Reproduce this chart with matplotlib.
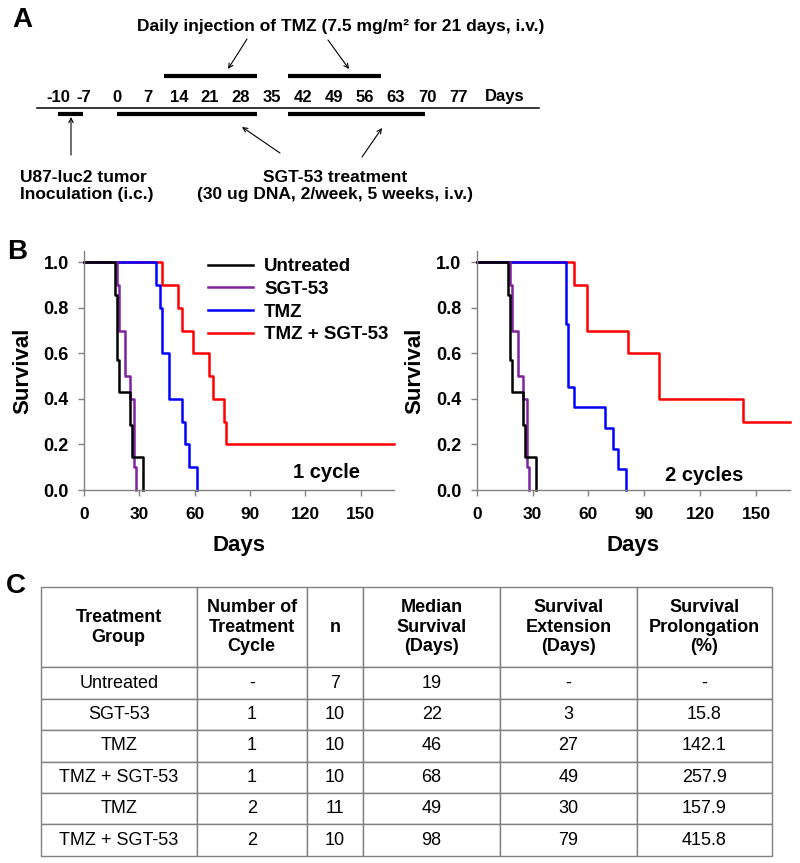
import numpy as np
import matplotlib
matplotlib.use('Agg')
import matplotlib.pyplot as plt

plt.rcParams['font.family'] = ['Liberation Sans', 'DejaVu Sans']

# ---- panel A: schedule ----
week_days = [-10, -7, 0, 7, 14, 21, 28, 35, 42, 49, 56, 63, 70, 77]
tmz_courses = [(10.5, 31.5), (38.5, 59.5)]
sgt_courses = [(0, 31.5), (38.5, 69.5)]
inoculation = (-10, -7)

# ---- panel B: survival (event days, deaths per day, group size) ----
untreated_t = [17, 18, 19, 25, 26, 32]
untreated_d = [1, 2, 1, 1, 1, 1]
sgt_t = [18, 19, 22, 25, 27, 28]
sgt_d = [1, 2, 2, 1, 3, 1]
tmz1_t = [39, 41, 42, 46, 53, 55, 57, 61]
tmz1_d = [1, 1, 2, 2, 1, 1, 1, 1]
combo1_t = [42, 51, 53, 59, 68, 70, 76, 77]
combo1_d = [1, 1, 1, 1, 1, 1, 1, 1]
tmz2_t = [48, 49, 52, 69, 73, 76, 80]
tmz2_d = [3, 3, 1, 1, 1, 1, 1]
combo2_t = [52, 59, 81, 98, 143]
combo2_d = [1, 2, 1, 2, 1]
followup = 168

# ---- panel C: table ----
col_labels = ['Treatment\nGroup', 'Number of\nTreatment\nCycle', 'n',
              'Median\nSurvival\n(Days)', 'Survival\nExtension\n(Days)',
              'Survival\nProlongation\n(%)']
groups = ['Untreated', 'SGT-53', 'TMZ', 'TMZ + SGT-53', 'TMZ', 'TMZ + SGT-53']
cycles = ['-', '1', '1', '1', '2', '2']
n_mice = [7, 10, 10, 10, 11, 10]
median_surv = [19, 22, 46, 68, 49, 98]
extension = ['-', '3', '27', '49', '30', '79']
prolong = ['-', '15.8', '142.1', '257.9', '157.9', '415.8']

W, H = 800, 863
fig = plt.figure(figsize=(W / 100, H / 100), dpi=100)


def km(times, deaths, n):
    xs, ys = [0], [1.0]
    s, risk = 1.0, n
    for t, d in zip(times, deaths):
        s *= 1 - d / risk
        risk -= d
        xs.append(t)
        ys.append(s)
    if risk > 0:
        xs.append(followup)
        ys.append(s)
    return xs, ys


# panel A ---------------------------------------------------------------
DAY0, PXW = 117, 31.0
slot = {-10: -13.3, -7: -7.6}


def pos(d):
    return slot.get(d, d)


def px(p):
    return (p - DAY0) * 7 / PXW


axA = fig.add_axes([0, 1 - 210 / H, 1, 210 / H])
axA.set_xlim(px(0), px(W))
axA.set_ylim(210, 0)
axA.axis('off')

axA.plot([px(37), px(539)], [108, 108], color='black', lw=1.1)
for d in week_days:
    axA.text(pos(d), 97, str(d), ha='center', va='center', fontsize=12, fontweight='bold')
axA.text(px(505), 97, 'Days', ha='center', va='center', fontsize=12, fontweight='bold')
for a, b in tmz_courses:
    axA.plot([a, b], [76, 76], color='black', lw=3, solid_capstyle='butt')
for a, b in sgt_courses:
    axA.plot([a, b], [114, 114], color='black', lw=3, solid_capstyle='butt')
axA.plot([pos(inoculation[0]), pos(inoculation[1])], [114, 114], color='black', lw=3,
         solid_capstyle='butt')

axA.text(px(341), 27, 'Daily injection of TMZ (7.5 mg/m² for 21 days, i.v.)',
         ha='center', va='center', fontsize=12.5, fontweight='bold')
axA.text(px(20), 186, 'U87-luc2 tumor\nInoculation (i.c.)', ha='left', va='center',
         fontsize=12.5, fontweight='bold', linespacing=1.25)
axA.text(px(335), 186, 'SGT-53 treatment\n(30 ug DNA, 2/week, 5 weeks, i.v.)',
         ha='center', va='center', fontsize=12.5, fontweight='bold', linespacing=1.25)

arrows = [((247, 39), (228, 69)), ((328, 40), (349, 69)), ((71, 155), (71, 117)),
          ((280, 153), (242, 127)), ((362, 157), (382, 128))]
for (x0, y0), (x1, y1) in arrows:
    axA.annotate('', xy=(px(x1), y1), xytext=(px(x0), y0),
                 arrowprops=dict(arrowstyle='->', lw=0.8, color='black',
                                 shrinkA=0, shrinkB=0, mutation_scale=8))

fig.text(22 / W, 1 - 20 / H, 'A', ha='center', va='center', fontsize=20, fontweight='bold')
fig.text(17 / W, 1 - 252 / H, 'B', ha='center', va='center', fontsize=20, fontweight='bold')
fig.text(16 / W, 1 - 586 / H, 'C', ha='center', va='center', fontsize=20, fontweight='bold')

# panel B ---------------------------------------------------------------
colors = {'Untreated': 'black', 'SGT-53': '#7f239f', 'TMZ': '#0000ff', 'TMZ + SGT-53': '#ff0000'}
panels = [
    (84, 310, '1 cycle', (131.5, 0.075),
     [('TMZ + SGT-53', combo1_t, combo1_d, 10), ('TMZ', tmz1_t, tmz1_d, 10),
      ('SGT-53', sgt_t, sgt_d, 10), ('Untreated', untreated_t, untreated_d, 7)]),
    (476.7, 313, '2 cycles', (122, 0.065),
     [('TMZ + SGT-53', combo2_t, combo2_d, 10), ('TMZ', tmz2_t, tmz2_d, 11),
      ('SGT-53', sgt_t, sgt_d, 10), ('Untreated', untreated_t, untreated_d, 7)]),
]
top_px, bot_px = 251, 490
for i, (left, width, tag, tagpos, curves) in enumerate(panels):
    ax = fig.add_axes([left / W, 1 - bot_px / H, width / W, (bot_px - top_px) / H])
    handles = {}
    for name, t, d, n in curves:
        xs, ys = km(t, d, n)
        ln, = ax.step(xs, ys, where='post', color=colors[name], lw=1.8, clip_on=False)
        handles[name] = ln
    ax.set_xlim(0, followup)
    ax.set_ylim(0, 1.05)
    ax.set_xticks(np.arange(0, 151, 30))
    ax.set_yticks(np.arange(0, 1.01, 0.2))
    ax.set_yticklabels(['%.1f' % v for v in np.arange(0, 1.01, 0.2)])
    for s in ['top', 'right']:
        ax.spines[s].set_visible(False)
    for s in ['left', 'bottom']:
        ax.spines[s].set_color('#808080')
        ax.spines[s].set_linewidth(1)
    ax.tick_params(axis='both', colors='#808080', length=4, width=1, labelcolor='black')
    ax.tick_params(axis='y', pad=7, labelsize=13)
    ax.tick_params(axis='x', pad=8, labelsize=12.5)
    for lab in ax.get_xticklabels() + ax.get_yticklabels():
        lab.set_fontweight('bold')
    ax.set_ylabel('Survival', fontsize=16, fontweight='bold')
    ax.set_xlabel('Days', fontsize=16, fontweight='bold', va='top')
    ax.yaxis.set_label_coords(-0.165, 0.5)
    ax.xaxis.set_label_coords(0.5, -0.19)
    ax.text(tagpos[0], tagpos[1], tag, ha='center', va='center', fontsize=14.5,
            fontweight='bold')
    if i == 0:
        order = ['Untreated', 'SGT-53', 'TMZ', 'TMZ + SGT-53']
        fig.legend([handles[k] for k in order], order, loc='upper left',
                   bbox_to_anchor=(208 / W, 1 - 258 / H), frameon=False,
                   prop=dict(size=13.5, weight='bold'), handlelength=2.4,
                   handletextpad=0.6, labelspacing=0.3, borderpad=0, borderaxespad=0)

# panel C ---------------------------------------------------------------
tl, tr, tt, tb = 40.7, 772, 587.3, 855.7
axT = fig.add_axes([tl / W, 1 - tb / H, (tr - tl) / W, (tb - tt) / H])
axT.axis('off')
rows = [[g, c, str(n), str(m), e, p] for g, c, n, m, e, p in
        zip(groups, cycles, n_mice, median_surv, extension, prolong)]
col_w = [156, 110, 56.6, 136.7, 136.7, 135.3]
tab = axT.table(cellText=rows, colLabels=col_labels, colWidths=col_w,
                cellLoc='center', colLoc='center', bbox=[0, 0, 1, 1])
tab.auto_set_font_size(False)
tab.set_fontsize(13)
for (r, c), cell in tab.get_celld().items():
    cell.set_edgecolor('#808080')
    cell.set_linewidth(1)
    cell.set_height(80 if r == 0 else 31.4)
    if r == 0:
        cell.get_text().set_fontweight('bold')
        cell.get_text().set_linespacing(1.2)

fig.savefig('out.png', dpi=100)
